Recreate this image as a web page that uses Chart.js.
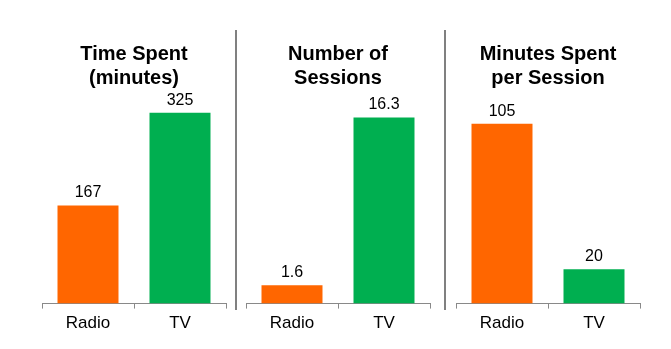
<!DOCTYPE html>
<html>
<head>
<meta charset="utf-8">
<script src="https://cdn.jsdelivr.net/npm/chart.js@4"></script>
<style>
  body { margin: 0; background: #fff; }
  #wrap { position: relative; width: 671px; height: 349px; overflow: hidden; }
  #wrap canvas { position: absolute; top: 0; }
  .sep { position: absolute; top: 30px; width: 2px; height: 280px; background: #808080; }
</style>
</head>
<body>
<div id="wrap">
  <canvas id="c1" width="224" height="349" style="left:22px"></canvas>
  <canvas id="c2" width="224" height="349" style="left:226px"></canvas>
  <canvas id="c3" width="224" height="349" style="left:436px"></canvas>
  <div class="sep" style="left:235px"></div>
  <div class="sep" style="left:444px"></div>
</div>
<script>
const categories = ['Radio', 'TV'];
const timeSpent = [167, 325];
const sessions = [1.6, 16.3];
const minutesPerSession = [105, 20];
const barColors = ['#FF6600', '#00AF50'];

const fontFamily = '"Liberation Sans", Arial, sans-serif';

// value printed above every bar
const valueLabels = {
  id: 'valueLabels',
  afterDatasetsDraw(chart) {
    const ctx = chart.ctx;
    const ds = chart.data.datasets[0];
    chart.getDatasetMeta(0).data.forEach((bar, i) => {
      ctx.save();
      ctx.font = '16px ' + fontFamily;
      ctx.fillStyle = '#000';
      ctx.textAlign = 'center';
      ctx.textBaseline = 'alphabetic';
      ctx.fillText(String(ds.data[i]), bar.x, bar.y - 8);
      ctx.restore();
    });
  }
};

function makeChart(id, title, values, yMax) {
  return new Chart(document.getElementById(id), {
    type: 'bar',
    data: {
      labels: categories,
      datasets: [{
        data: values,
        backgroundColor: barColors,
        borderWidth: 0,
        barPercentage: 0.663,
        categoryPercentage: 1
      }]
    },
    options: {
      responsive: false,
      animation: false,
      layout: { padding: { top: 42, left: 20, right: 20, bottom: 10 } },
      plugins: {
        legend: { display: false },
        tooltip: { enabled: false },
        title: {
          display: true,
          text: title,
          color: '#000',
          font: { family: fontFamily, size: 20, weight: 'bold', lineHeight: 1.2 },
          padding: { top: 0, bottom: 8 }
        }
      },
      scales: {
        x: {
          grid: {
            display: true,
            drawOnChartArea: false,
            tickLength: 5,
            color: '#898989',
            lineWidth: 1
          },
          border: { display: true, color: '#898989', width: 1 },
          ticks: {
            color: '#000',
            padding: 5,
            font: { family: fontFamily, size: 17 }
          }
        },
        y: {
          display: false,
          min: 0,
          max: yMax
        }
      }
    },
    plugins: [valueLabels]
  });
}

makeChart('c1', ['Time Spent', '(minutes)'], timeSpent, 350);
makeChart('c2', ['Number of', 'Sessions'], sessions, 18);
makeChart('c3', ['Minutes Spent', 'per Session'], minutesPerSession, 120);
</script>
</body>
</html>
